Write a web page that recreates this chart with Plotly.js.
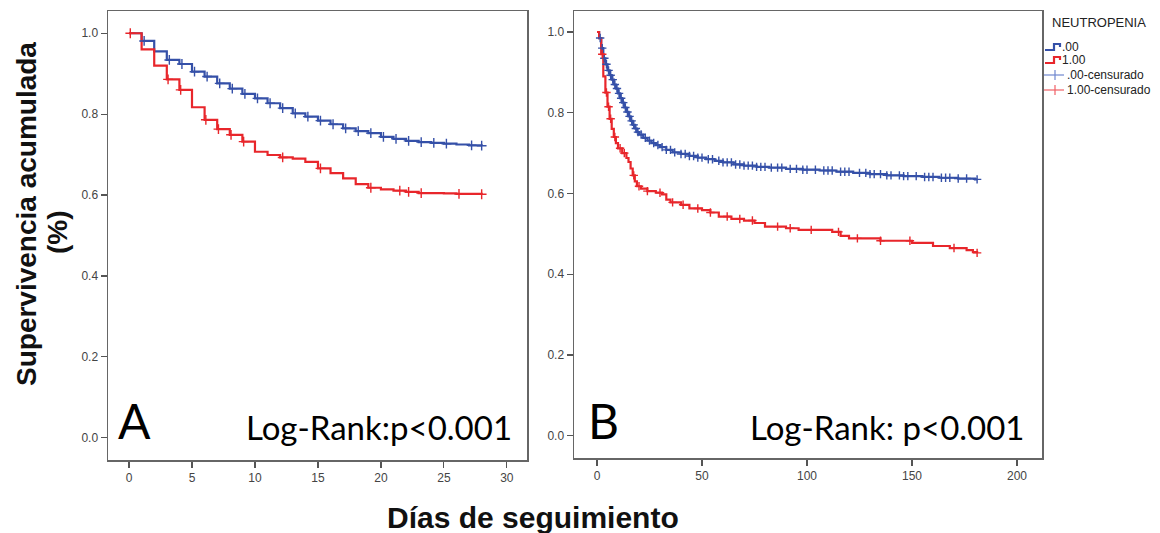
<!DOCTYPE html>
<html>
<head>
<meta charset="utf-8">
<script src="https://cdn.plot.ly/plotly-3.0.1.min.js"></script>
<style>html,body{margin:0;padding:0;background:#fff;}#chart{width:1160px;height:533px;}</style>
</head>
<body>
<div id="chart"></div>
<script>
// ---------------- DATA ----------------
// Panel A (28 days): Kaplan-Meier step times (days) and survival after each step
var timesA0 = [0,1,2,3,4,5,6,7,8,9,10,11,12,13,14,15,16,17,18,19,20,21,22,23,24,25,26,27,28];
var survA0  = [1.000,0.981,0.955,0.934,0.924,0.905,0.893,0.876,0.863,0.850,0.839,0.827,0.815,0.802,0.794,0.784,0.775,0.765,0.758,0.753,0.744,0.739,0.734,0.731,0.729,0.727,0.725,0.723,0.722];
var timesA1 = [0,1,2,3,4,5,6,7,8,9,10,11,12,13,14,15,16,17,18,19,20,21,22,23,24,25,26,27,28];
var survA1  = [1.000,0.960,0.920,0.886,0.860,0.817,0.786,0.763,0.749,0.732,0.707,0.699,0.693,0.690,0.682,0.666,0.654,0.641,0.627,0.618,0.614,0.611,0.608,0.605,0.605,0.604,0.603,0.603,0.602];
var censA0  = [1.2,3.2,4.2,5.2,6.2,7.2,8.2,9.2,10.2,11.2,12.2,13.2,14.2,15.2,16.2,17.2,18.2,19.2,20.2,21.2,22.2,23.2,24.2,25.2,27.2,28];
var censA1  = [0.1,3.1,4.1,6.1,7.1,8.1,9.1,12.2,15.2,19.2,21.5,22.2,23.2,26.2,28];

// Panel B (180 days)
var timesB0 = [0,1,2,3,4,5,6,7,8,9,10,11,12,13,14,15,16,17,18,19,20,22,24,26,28,30,33,36,40,44,48,52,56,60,65,70,76,82,90,98,106,114,122,130,138,146,155,163,172,180,181];
var survB0  = [1.000,0.985,0.960,0.935,0.920,0.905,0.893,0.882,0.870,0.860,0.848,0.836,0.825,0.813,0.802,0.791,0.780,0.770,0.761,0.752,0.746,0.738,0.731,0.725,0.720,0.715,0.708,0.702,0.698,0.693,0.689,0.685,0.681,0.677,0.672,0.669,0.666,0.664,0.661,0.659,0.657,0.654,0.651,0.648,0.645,0.643,0.641,0.639,0.637,0.635,0.635];
var timesB1 = [0,1,2,3,4,5,6,7,8,9,10,12,14,15,16,17,18,19,21,24,28,31,33,35,40,44,50,54,58,64,70,75,80,90,96,112,116,120,135,150,160,168,176,179,181];
var survB1  = [1.000,0.985,0.945,0.890,0.850,0.815,0.785,0.760,0.740,0.725,0.712,0.700,0.688,0.678,0.662,0.645,0.630,0.618,0.612,0.606,0.602,0.598,0.585,0.578,0.572,0.563,0.559,0.553,0.543,0.537,0.533,0.527,0.518,0.514,0.510,0.505,0.495,0.489,0.483,0.478,0.470,0.465,0.460,0.455,0.453];
var censB0  = [1.5,2.5,3.5,4.5,5.5,6.5,7.5,8.5,9.5,10.5,11.5,12.5,13.5,14.5,15.5,16.5,17.5,18.5,19.5,21,23,25,27,29,31,33,35,37,40,42,44,46,48,50,53,55,58,60,62,64,66,68,70,72,74,76,78,80,83,86,88,92,95,98,100,104,108,110,112,116,118,120,125,128,130,132,135,138,140,144,146,148,152,156,158,160,164,166,168,172,176,181];
var censB1  = [2.5,4.5,5.5,6.5,8.5,11,13,17.5,20,24,30,36,41,48,54,62,68,74,86,92,102,115,124,135,149,170,181];

var xTicksA = [0,5,10,15,20,25,30];
var xTicksB = [0,50,100,150,200];
var yTicks  = [0.0,0.2,0.4,0.6,0.8,1.0];

var groupLabels  = ['.00','1.00'];
var censorLabels = ['.00-censurado','1.00-censurado'];
var legendTitle  = 'NEUTROPENIA';
var yTitle1 = 'Supervivencia acumulada';
var yTitle2 = '(%)';
var xTitle  = 'Días de seguimiento';
var panelA = 'A', panelB = 'B';
var testA = 'Log-Rank:p<0.001';
var testB = 'Log-Rank: p<0.001';

// ---------------- HELPERS ----------------
var W = 1160, H = 533;
function px(x){ return x / W; }
function py(y){ return 1 - y / H; }
function stepLookup(times, surv, t){
  var v = surv[0];
  for (var i = 0; i < times.length; i++){ if (times[i] <= t) v = surv[i]; }
  return v;
}
var BLUE = '#3550a8', RED = '#e8262b';
var BLUE_L = '#6f86cf', RED_L = '#f06066';

function curve(times, surv, color, xa, ya){
  return {x: times, y: surv, xaxis: xa, yaxis: ya, type: 'scatter', mode: 'lines',
          line: {color: color, width: 2.2, shape: 'hv'}, hoverinfo: 'skip', showlegend: false};
}
function cens(ct, times, surv, color, xa, ya, size){
  return {x: ct, y: ct.map(function(t){ return stepLookup(times, surv, t); }), xaxis: xa, yaxis: ya,
          type: 'scatter', mode: 'markers',
          marker: {symbol: 'cross-thin', size: size, line: {color: color, width: 1.4}},
          hoverinfo: 'skip', showlegend: false};
}

var data = [
  curve(timesA0, survA0, BLUE, 'x', 'y'),
  curve(timesA1, survA1, RED, 'x', 'y'),
  cens(censA0, timesA0, survA0, BLUE, 'x', 'y', 7),
  cens(censA1, timesA1, survA1, RED, 'x', 'y', 7),
  curve(timesB0, survB0, BLUE, 'x2', 'y2'),
  curve(timesB1, survB1, RED, 'x2', 'y2'),
  cens(censB0, timesB0, survB0, BLUE, 'x2', 'y2', 6),
  cens(censB1, timesB1, survB1, RED, 'x2', 'y2', 6)
];

var axisStyle = {
  showgrid: false, zeroline: false, showline: true, mirror: true,
  linecolor: '#666', linewidth: 1.5,
  ticks: 'outside', ticklen: 6, tickwidth: 1.2, tickcolor: '#555',
  tickfont: {family: 'Liberation Sans, Arial, sans-serif', size: 12, color: '#444'}
};
function ax(extra){ var o = {}; for (var k in axisStyle) o[k] = axisStyle[k]; for (var k2 in extra) o[k2] = extra[k2]; return o; }

var sansBold = 'Liberation Sans, Arial, sans-serif';
var calib = 'Lato, Open Sans, sans-serif';

var annotations = [
  {text: '<b>' + yTitle1 + '</b>', xref: 'paper', yref: 'paper', x: px(26), y: py(214), xanchor: 'center', yanchor: 'middle',
   textangle: -90, showarrow: false, font: {family: sansBold, size: 28, color: '#111'}},
  {text: '<b>' + yTitle2 + '</b>', xref: 'paper', yref: 'paper', x: px(57), y: py(232), xanchor: 'center', yanchor: 'middle',
   textangle: -90, showarrow: false, font: {family: sansBold, size: 28, color: '#111'}},
  {text: '<b>' + xTitle + '</b>', xref: 'paper', yref: 'paper', x: px(533), y: py(517), xanchor: 'center', yanchor: 'middle',
   showarrow: false, font: {family: sansBold, size: 30, color: '#111'}},
  {text: panelA, xref: 'paper', yref: 'paper', x: px(116), y: py(420), xanchor: 'left', yanchor: 'middle',
   showarrow: false, font: {family: calib, size: 48, color: '#000'}},
  {text: panelB, xref: 'paper', yref: 'paper', x: px(586), y: py(420), xanchor: 'left', yanchor: 'middle',
   showarrow: false, font: {family: calib, size: 48, color: '#000'}},
  {text: testA, xref: 'paper', yref: 'paper', x: px(514), y: py(427), xanchor: 'right', yanchor: 'middle',
   showarrow: false, font: {family: calib, size: 33, color: '#000'}},
  {text: testB, xref: 'paper', yref: 'paper', x: px(1026), y: py(427), xanchor: 'right', yanchor: 'middle',
   showarrow: false, font: {family: calib, size: 33, color: '#000'}},
  {text: legendTitle, xref: 'paper', yref: 'paper', x: px(1050), y: py(23), xanchor: 'left', yanchor: 'middle',
   showarrow: false, font: {family: sansBold, size: 13, color: '#222'}},
  {text: groupLabels[0], xref: 'paper', yref: 'paper', x: px(1060), y: py(47), xanchor: 'left', yanchor: 'middle',
   showarrow: false, font: {family: sansBold, size: 12, color: '#222'}},
  {text: groupLabels[1], xref: 'paper', yref: 'paper', x: px(1060), y: py(60), xanchor: 'left', yanchor: 'middle',
   showarrow: false, font: {family: sansBold, size: 12, color: '#222'}},
  {text: censorLabels[0], xref: 'paper', yref: 'paper', x: px(1065), y: py(75), xanchor: 'left', yanchor: 'middle',
   showarrow: false, font: {family: sansBold, size: 12, color: '#222'}},
  {text: censorLabels[1], xref: 'paper', yref: 'paper', x: px(1065), y: py(90), xanchor: 'left', yanchor: 'middle',
   showarrow: false, font: {family: sansBold, size: 12, color: '#222'}}
];

function pth(pts){ return pts.map(function(p, i){ return (i ? 'L' : 'M') + px(p[0]) + ',' + py(p[1]); }).join(' '); }
var shapes = [
  {type: 'path', xref: 'paper', yref: 'paper', path: pth([[1045,50],[1054,50],[1054,44],[1060,44],[1060,47]]), line: {color: BLUE, width: 2.2}},
  {type: 'path', xref: 'paper', yref: 'paper', path: pth([[1045,63],[1054,63],[1054,57],[1060,57],[1060,60]]), line: {color: RED, width: 2.2}},
  {type: 'line', xref: 'paper', yref: 'paper', x0: px(1044), x1: px(1064), y0: py(75), y1: py(75), line: {color: BLUE_L, width: 1.2}},
  {type: 'line', xref: 'paper', yref: 'paper', x0: px(1055), x1: px(1055), y0: py(70), y1: py(80), line: {color: BLUE_L, width: 1.2}},
  {type: 'line', xref: 'paper', yref: 'paper', x0: px(1044), x1: px(1064), y0: py(90), y1: py(90), line: {color: RED_L, width: 1.2}},
  {type: 'line', xref: 'paper', yref: 'paper', x0: px(1055), x1: px(1055), y0: py(85), y1: py(95), line: {color: RED_L, width: 1.2}}
];

var layout = {
  width: W, height: H,
  margin: {l: 0, r: 0, t: 0, b: 0},
  paper_bgcolor: '#ffffff', plot_bgcolor: '#ffffff',
  showlegend: false,
  xaxis:  ax({domain: [px(108), px(527)], range: [-1.67, 31.6], tickvals: xTicksA, anchor: 'y'}),
  yaxis:  ax({domain: [py(460), py(11)], range: [-0.055, 1.055], tickvals: yTicks, tickformat: '.1f', anchor: 'x'}),
  xaxis2: ax({domain: [px(574), px(1042)], range: [-10.95, 211.9], tickvals: xTicksB, anchor: 'y2'}),
  yaxis2: ax({domain: [py(458), py(11)], range: [-0.055, 1.052], tickvals: yTicks, tickformat: '.1f', anchor: 'x2'}),
  annotations: annotations,
  shapes: shapes
};

Plotly.newPlot('chart', data, layout, {staticPlot: true, displayModeBar: false});
</script>
</body>
</html>
